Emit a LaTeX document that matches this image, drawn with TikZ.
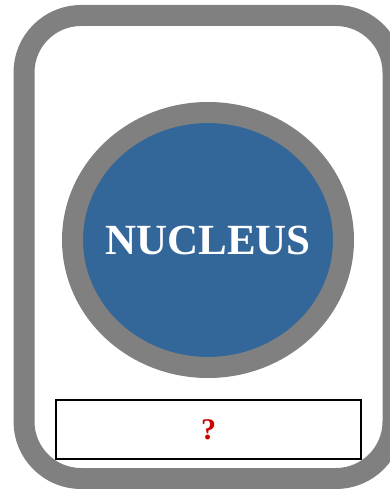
\documentclass[tikz,border=0pt]{standalone}
\usepackage{fontspec}
\setmainfont{Liberation Serif}
\definecolor{framegray}{RGB}{128,128,128}
\definecolor{nucblue}{RGB}{51,102,153}
\definecolor{askred}{RGB}{204,0,0}
\usetikzlibrary{shapes.geometric}

\begin{document}
\begin{tikzpicture}[x=1pt,y=-1pt,
        cell/.style={draw=framegray,line width=21pt,rounded corners=57pt,
                     minimum width=369pt,minimum height=463pt,inner sep=0pt},
        nucleus/.style={ellipse,draw=framegray,fill=nucblue,line width=21pt,
                        minimum width=271pt,minimum height=255pt,inner sep=0pt},
        label/.style={text=white,font=\fontsize{43}{43}\selectfont\bfseries},
        answer/.style={draw=black,line width=1.3pt,
                       minimum width=305pt,minimum height=59pt,inner sep=0pt,
                       text=askred,font=\fontsize{30}{30}\selectfont\bfseries}]
      \useasboundingbox (0,0) rectangle (389,489);
      \node[cell] (c) at (208.5,247) {};
      \node[nucleus] (n) at (208,240) {};
      \node[label] (t) at (n) {NUCLEUS};
      \node[answer] (q) at (208.5,429.5) {?};
    \end{tikzpicture}
\end{document}
